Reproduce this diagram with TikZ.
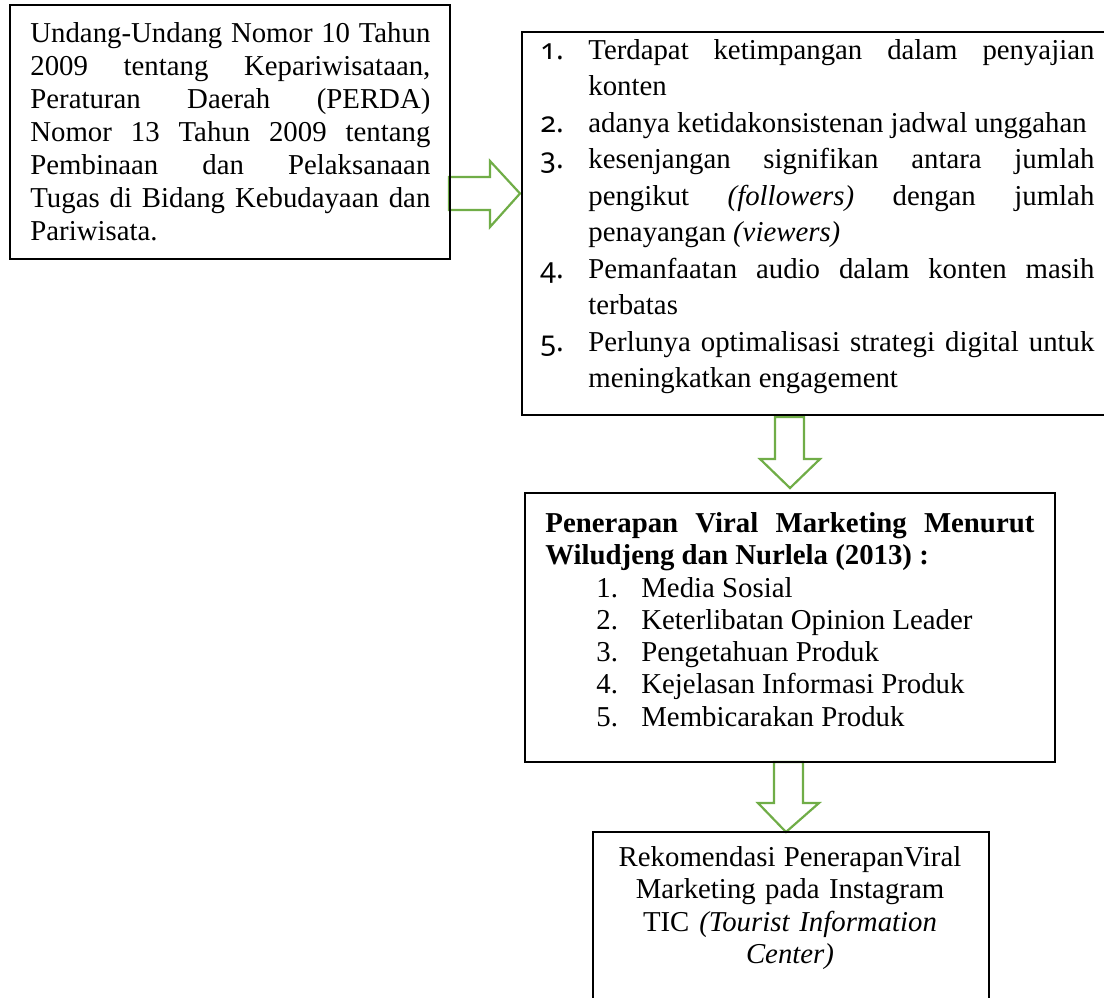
\documentclass[tikz,border=0pt]{standalone}
\usepackage{fontspec}
\setmainfont{Liberation Serif}
\newfontfamily\numfont[Numbers=OldStyle]{Noto Sans}
\definecolor{arrowgreen}{HTML}{70AD47}
\newcommand\rnumbox[1]{\makebox[24pt][l]{\numfont #1}}
\newcommand\rjust[1]{\makebox[253pt][s]{#1}}
\newcommand\rindent{\hspace*{24pt}}
\newcommand\mnumbox[1]{\hspace*{25.5pt}\makebox[22.5pt][l]{#1}}
\newcommand\plainspaces{\spaceskip=0pt\xspaceskip=0pt\relax}
\begin{document}
\begin{tikzpicture}[x=0.5pt,y=-0.5pt,
  box/.style={draw=black,line width=0.75pt,inner sep=0pt,anchor=north west},
  txt/.style={inner sep=0pt,anchor=north west,align=left},
  blockarrow/.style={draw=arrowgreen,fill=white,line width=1.1pt,line join=miter}]
\useasboundingbox (0,0) rectangle (1104,997);

% block arrows
\draw[blockarrow] (449,177) -- (490,177) -- (490,161) -- (520,193.5) -- (490,227) -- (490,210) -- (449,210) -- cycle;
\draw[blockarrow] (775,417) -- (804,417) -- (804,459) -- (820,459) -- (790,488) -- (760,459) -- (775,459) -- cycle;
\draw[blockarrow] (774,762) -- (803,762) -- (803,803) -- (819,803) -- (786,832) -- (758,803) -- (774,803) -- cycle;

% boxes
\node[box,minimum width=220pt,minimum height=127pt] (law) at (9,4) {};
\node[box,minimum width=293.5pt,minimum height=191.5pt] (issues) at (521,31) {};
\node[box,minimum width=265pt,minimum height=134.5pt] (theory) at (524,492) {};
\node[box,minimum width=198pt,minimum height=89.5pt] (rec) at (592,831) {};

% texts
\node[txt,text width=200pt,font=\fontsize{14.4}{16.5}\selectfont] (lawtext) at (30,18.9) {%
\plainspaces\strut\makebox[200pt][s]{Undang-Undang Nomor 10 Tahun}\\
\makebox[200pt][s]{2009 tentang Kepariwisataan,}\\
\makebox[200pt][s]{Peraturan Daerah (PERDA)}\\
\makebox[200pt][s]{Nomor 13 Tahun 2009 tentang}\\
\makebox[200pt][s]{Pembinaan dan Pelaksanaan}\\
\makebox[200pt][s]{Tugas di Bidang Kebudayaan dan}\\
Pariwisata.};

\node[txt,text width=277pt,font=\fontsize{14.4}{18.25}\selectfont] (issuestext) at (540,33.5) {%
\plainspaces\strut\rnumbox{1.}\rjust{Terdapat ketimpangan dalam penyajian}\\
\rindent konten\\
\rnumbox{2.}adanya ketidakonsistenan jadwal unggahan\\
\rnumbox{3.}\rjust{kesenjangan signifikan antara jumlah}\\
\rindent\rjust{pengikut \textit{(followers)} dengan jumlah}\\
\rindent penayangan \textit{(viewers)}\\
\rnumbox{4.}\rjust{Pemanfaatan audio dalam konten masih}\\
\rindent terbatas\\
\rnumbox{5.}\rjust{Perlunya optimalisasi strategi digital untuk}\\
\rindent meningkatkan engagement};

\node[txt,text width=244.5pt,font=\fontsize{14.4}{16.15}\selectfont] (theorytext) at (545,509.4) {%
\plainspaces\strut\makebox[244.5pt][s]{\bfseries Penerapan Viral Marketing Menurut}\\
\textbf{Wiludjeng dan Nurlela (2013) :}\\
\mnumbox{1.}Media Sosial\\
\mnumbox{2.}Keterlibatan Opinion Leader\\
\mnumbox{3.}Pengetahuan Produk\\
\mnumbox{4.}Kejelasan Informasi Produk\\
\mnumbox{5.}Membicarakan Produk};

\node[inner sep=0pt,anchor=north,align=center,text width=190pt,font=\fontsize{14.4}{16.25}\selectfont] (rectext) at (790,843.25) {%
\plainspaces\strut Rekomendasi PenerapanViral\\
Marketing pada Instagram\\
TIC \textit{(Tourist Information}\\
\textit{Center)}};
\end{tikzpicture}
\end{document}
